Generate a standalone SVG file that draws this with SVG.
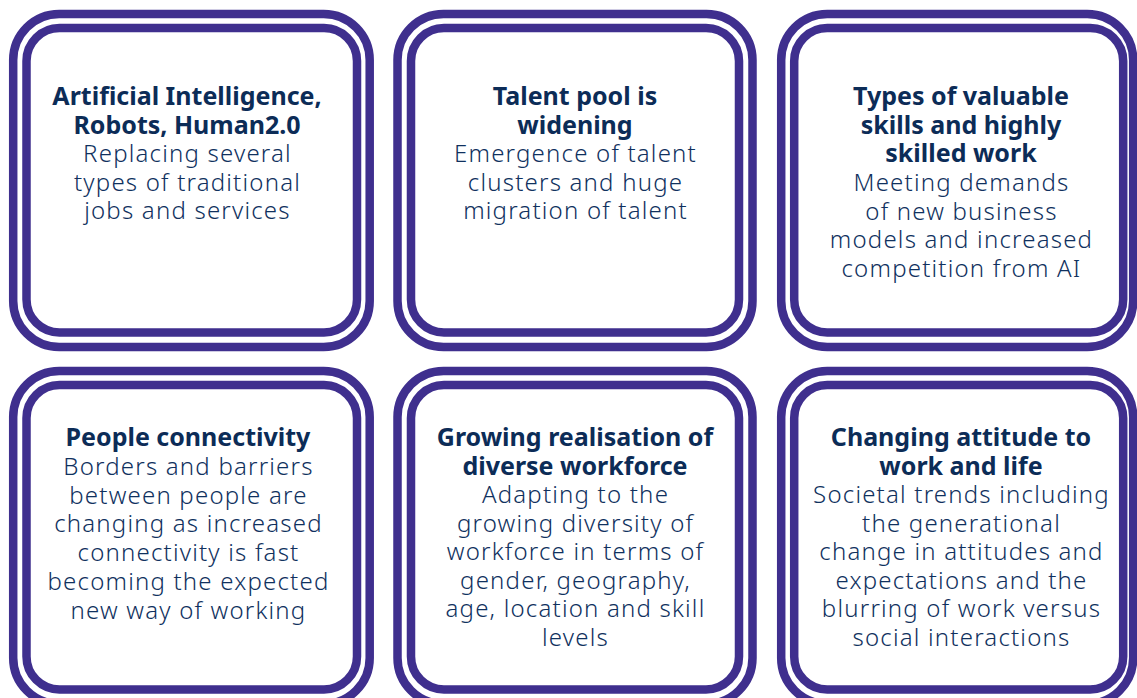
<svg xmlns="http://www.w3.org/2000/svg" width="1137" height="698" viewBox="0 0 1137 698">
<style>
.ring{fill:none;stroke:#3f2f8e;stroke-width:8.5}
.bg{fill:#ffffff}
text{font-family:"Noto Sans",Lato,"Liberation Sans",sans-serif;text-anchor:middle}
.h{font-size:25px;font-weight:700;fill:#0c2c57}
.b{font-size:24px;font-weight:300;fill:#10315e;letter-spacing:1.2px}
</style>
<rect class="bg" x="0" y="0" width="1137" height="698"/>
<g id="node-ai">
<rect class="ring" x="13.2" y="14" width="356.5" height="333" rx="46"/>
<rect class="ring" x="26.5" y="28" width="330.5" height="304.5" rx="33"/>
<text class="h" x="187" y="105">Artificial Intelligence,</text>
<text class="h" x="187" y="133.5">Robots, Human2.0</text>
<text class="b" x="187.5" y="162">Replacing several</text>
<text class="b" x="187.5" y="190.5">types of traditional</text>
<text class="b" x="187.5" y="219">jobs and services</text>
</g>
<g id="node-talent">
<rect class="ring" x="397.5" y="14" width="355" height="333" rx="46"/>
<rect class="ring" x="411" y="28" width="328" height="304.5" rx="33"/>
<text class="h" x="575" y="105">Talent pool is</text>
<text class="h" x="575" y="133.5">widening</text>
<text class="b" x="575.5" y="162">Emergence of talent</text>
<text class="b" x="575.5" y="190.5">clusters and huge</text>
<text class="b" x="575.5" y="219">migration of talent</text>
</g>
<g id="node-skills">
<rect class="ring" x="781.2" y="14" width="352" height="333" rx="46"/>
<rect class="ring" x="794.2" y="28" width="329" height="304.5" rx="33"/>
<text class="h" x="961" y="105">Types of valuable</text>
<text class="h" x="961" y="133.5">skills and highly</text>
<text class="h" x="961" y="162">skilled work</text>
<text class="b" x="961.5" y="191">Meeting demands</text>
<text class="b" x="961.5" y="219.5">of new business</text>
<text class="b" x="961.5" y="248">models and increased</text>
<text class="b" x="961.5" y="276.5">competition from AI</text>
</g>
<g id="node-connectivity">
<rect class="ring" x="13.2" y="371" width="356.5" height="333" rx="46"/>
<rect class="ring" x="26.5" y="385" width="330.5" height="304.5" rx="33"/>
<text class="h" x="188" y="446">People connectivity</text>
<text class="b" x="188.5" y="475">Borders and barriers</text>
<text class="b" x="188.5" y="503.5">between people are</text>
<text class="b" x="188.5" y="532">changing as increased</text>
<text class="b" x="188.5" y="561">connectivity is fast</text>
<text class="b" x="188.5" y="590">becoming the expected</text>
<text class="b" x="188.5" y="618.5">new way of working</text>
</g>
<g id="node-diverse">
<rect class="ring" x="397.5" y="371" width="355" height="333" rx="46"/>
<rect class="ring" x="411" y="385" width="328" height="304.5" rx="33"/>
<text class="h" x="575" y="446">Growing realisation of</text>
<text class="h" x="575" y="474.5">diverse workforce</text>
<text class="b" x="575.5" y="503">Adapting to the</text>
<text class="b" x="575.5" y="531.5">growing diversity of</text>
<text class="b" x="575.5" y="560">workforce in terms of</text>
<text class="b" x="575.5" y="588.5">gender, geography,</text>
<text class="b" x="575.5" y="617">age, location and skill</text>
<text class="b" x="575.5" y="645.5">levels</text>
</g>
<g id="node-attitude">
<rect class="ring" x="781.2" y="371" width="352" height="333" rx="46"/>
<rect class="ring" x="794.2" y="385" width="329" height="304.5" rx="33"/>
<text class="h" x="961" y="446">Changing attitude to</text>
<text class="h" x="961" y="474.5">work and life</text>
<text class="b" x="961.5" y="503">Societal trends including</text>
<text class="b" x="961.5" y="531.5">the generational</text>
<text class="b" x="961.5" y="560">change in attitudes and</text>
<text class="b" x="961.5" y="588.5">expectations and the</text>
<text class="b" x="961.5" y="617">blurring of work versus</text>
<text class="b" x="961.5" y="645.5">social interactions</text>
</g>
</svg>
